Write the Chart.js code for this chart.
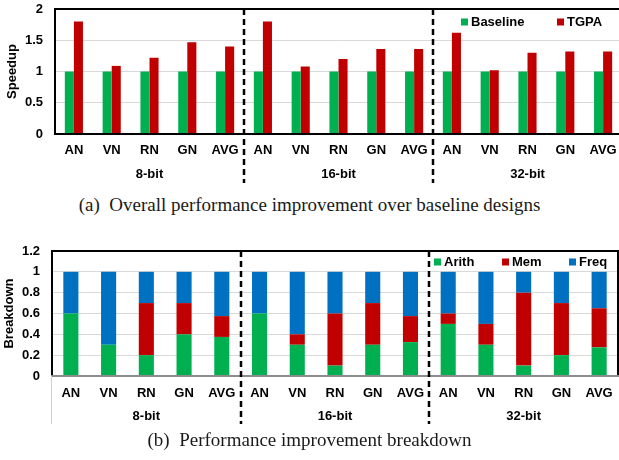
<!DOCTYPE html>
<html>
<head>
<meta charset="utf-8">
<script src="https://cdn.jsdelivr.net/npm/chart.js@4.4.0/dist/chart.umd.min.js"></script>
<style>
  html, body { margin: 0; padding: 0; background: #fff; }
  body { width: 619px; height: 460px; position: relative; overflow: hidden; }
  #wrapA { position: absolute; left: 0; top: 0; }
  #wrapB { position: absolute; left: 0; top: 236px; }
  .cap { position: absolute; left: 0; width: 619px; text-align: center;
         font-family: "Liberation Serif", "Times New Roman", serif; font-size: 19px; color: #1a1a1a; white-space: pre; }
</style>
</head>
<body>
<div id="wrapA"><canvas id="chartA" width="624" height="192"></canvas></div>
<div class="cap" style="top:194px">(a)  Overall performance improvement over baseline designs</div>
<div id="wrapB"><canvas id="chartB" width="619" height="194"></canvas></div>
<div class="cap" style="top:429px">(b)  Performance improvement breakdown</div>

<script>
// datos de las graficas
const categories = ['AN', 'VN', 'RN', 'GN', 'AVG'];
const groups = ['8-bit', '16-bit', '32-bit'];

const baseline = [1, 1, 1, 1, 1, 1, 1, 1, 1, 1, 1, 1, 1, 1, 1];
const tgpa = [1.8, 1.09, 1.22, 1.47, 1.4, 1.8, 1.08, 1.2, 1.36, 1.36, 1.62, 1.02, 1.3, 1.32, 1.32];

const arith = [0.6, 0.3, 0.2, 0.4, 0.375, 0.6, 0.3, 0.1, 0.3, 0.325, 0.5, 0.3, 0.1, 0.2, 0.275];
const mem = [0, 0, 0.5, 0.3, 0.2, 0, 0.1, 0.5, 0.4, 0.25, 0.1, 0.2, 0.7, 0.5, 0.375];
const freq = [0.4, 0.7, 0.3, 0.3, 0.425, 0.4, 0.6, 0.4, 0.3, 0.425, 0.4, 0.5, 0.2, 0.3, 0.35];

const speedupTicks = [0, 0.5, 1, 1.5, 2];
const breakdownTicks = [0, 0.2, 0.4, 0.6, 0.8, 1, 1.2];

const GREEN = '#00b050', RED = '#c00000', BLUE = '#0070c0';
const FONT = '"Liberation Sans", Arial, sans-serif';
const boldFont = { family: FONT, size: 13, weight: 'bold' };

// etiquetas: 5 categorias por cada grupo
const labels = groups.flatMap(() => categories);

// plugin para el marco, lineas punteadas, grupos y leyenda
const decor = {
  id: 'decor',
  afterDraw(chart, args, opts) {
    const ctx = chart.ctx;
    const a = chart.chartArea;
    const x = chart.scales.x;
    ctx.save();

    // marco negro
    ctx.lineWidth = 2;
    ctx.strokeStyle = '#000';
    ctx.beginPath();
    ctx.moveTo(a.left, a.bottom);
    ctx.lineTo(a.left, a.top);
    ctx.lineTo(opts.rightBorder ? a.right : chart.width, a.top);
    if (opts.rightBorder) ctx.lineTo(a.right, a.bottom);
    ctx.stroke();

    ctx.strokeStyle = opts.axisColor;
    ctx.beginPath();
    ctx.moveTo(a.left - 1, a.bottom);
    ctx.lineTo(chart.width, a.bottom);
    ctx.stroke();

    if (opts.leftSep) {
      ctx.strokeStyle = '#d0d0d0';
      ctx.lineWidth = 1;
      ctx.beginPath();
      ctx.moveTo(a.left - 0.5, a.bottom);
      ctx.lineTo(a.left - 0.5, opts.dashBottom);
      ctx.stroke();
    }

    // separadores punteados entre grupos
    ctx.strokeStyle = '#000';
    ctx.lineWidth = 2.5;
    ctx.setLineDash([6, 4]);
    for (let g = 1; g < groups.length; g++) {
      const px = Math.round(x.getPixelForValue(g * categories.length - 0.5));
      ctx.beginPath();
      ctx.moveTo(px, a.top);
      ctx.lineTo(px, opts.dashBottom);
      ctx.stroke();
    }
    ctx.setLineDash([]);

    // nombres de grupo
    ctx.fillStyle = '#000';
    ctx.font = 'bold 13px ' + FONT;
    ctx.textAlign = 'center';
    ctx.textBaseline = 'middle';
    groups.forEach((g, i) => {
      const px = x.getPixelForValue(i * categories.length + (categories.length - 1) / 2);
      ctx.fillText(g, px, opts.groupY);
    });

    // leyenda
    ctx.textAlign = 'left';
    chart.data.datasets.forEach((ds, i) => {
      const lx = opts.legendX[i];
      ctx.fillStyle = ds.backgroundColor;
      ctx.fillRect(lx, opts.legendY - 3.5, 7, 7);
      ctx.fillStyle = '#000';
      ctx.fillText(ds.label, lx + 10, opts.legendY);
    });
    ctx.restore();
  }
};

function buildOptions(cfg) {
  return {
    responsive: false,
    animation: false,
    layout: { padding: { top: cfg.padTop, right: cfg.padRight, left: 0, bottom: 0 } },
    plugins: {
      legend: { display: false },
      tooltip: { enabled: false },
      decor: cfg.decor
    },
    scales: {
      x: {
        stacked: cfg.stacked,
        grid: { display: false, drawTicks: false },
        border: { display: false },
        ticks: { font: boldFont, color: '#000', padding: cfg.xPad, maxRotation: 0, autoSkip: false },
        afterFit(s) { s.height = cfg.xHeight; s.paddingLeft = 0; s.paddingRight = 0; }
      },
      y: {
        stacked: cfg.stacked,
        min: 0,
        max: cfg.ticks[cfg.ticks.length - 1],
        afterBuildTicks(s) { s.ticks = cfg.ticks.map(v => ({ value: v })); },
        ticks: { font: boldFont, color: '#000', padding: 12, callback: v => String(v) },
        grid: {
          drawTicks: false,
          lineWidth: 1,
          color: c => (c.tick && (c.tick.value === 0 || c.tick.value === cfg.ticks[cfg.ticks.length - 1])) ? 'rgba(0,0,0,0)' : '#d9d9d9'
        },
        border: { display: false },
        title: { display: true, text: cfg.title, font: boldFont, color: '#000', padding: { top: cfg.titlePad, bottom: 0 } },
        afterFit(s) { s.width = cfg.yWidth; s.paddingTop = 0; s.paddingBottom = 0; }
      }
    }
  };
}

new Chart(document.getElementById('chartA'), {
  type: 'bar',
  data: {
    labels: labels,
    datasets: [
      { label: 'Baseline', data: baseline, backgroundColor: GREEN, barPercentage: 1, categoryPercentage: 0.48 },
      { label: 'TGPA', data: tgpa, backgroundColor: RED, barPercentage: 1, categoryPercentage: 0.48 }
    ]
  },
  options: buildOptions({
    padTop: 9, padRight: 2, xHeight: 58, yWidth: 55, xPad: 9, stacked: false,
    ticks: speedupTicks, title: 'Speedup', titlePad: 5,
    decor: { rightBorder: false, axisColor: '#000', dashBottom: 183, groupY: 174, legendX: [461, 557], legendY: 22, leftSep: false }
  }),
  plugins: [decor]
});

new Chart(document.getElementById('chartB'), {
  type: 'bar',
  data: {
    labels: labels,
    datasets: [
      { label: 'Arith', data: arith, backgroundColor: GREEN, barPercentage: 1, categoryPercentage: 0.4 },
      { label: 'Mem', data: mem, backgroundColor: RED, barPercentage: 1, categoryPercentage: 0.4 },
      { label: 'Freq', data: freq, backgroundColor: BLUE, barPercentage: 1, categoryPercentage: 0.4 }
    ]
  },
  options: buildOptions({
    padTop: 15, padRight: 1, xHeight: 54, yWidth: 52, xPad: 10, stacked: true,
    ticks: breakdownTicks, title: 'Breakdown', titlePad: 2,
    decor: { rightBorder: true, axisColor: '#8c8c8c', dashBottom: 188, groupY: 180, legendX: [434, 502, 569], legendY: 26, leftSep: true }
  }),
  plugins: [decor]
});
</script>
</body>
</html>
